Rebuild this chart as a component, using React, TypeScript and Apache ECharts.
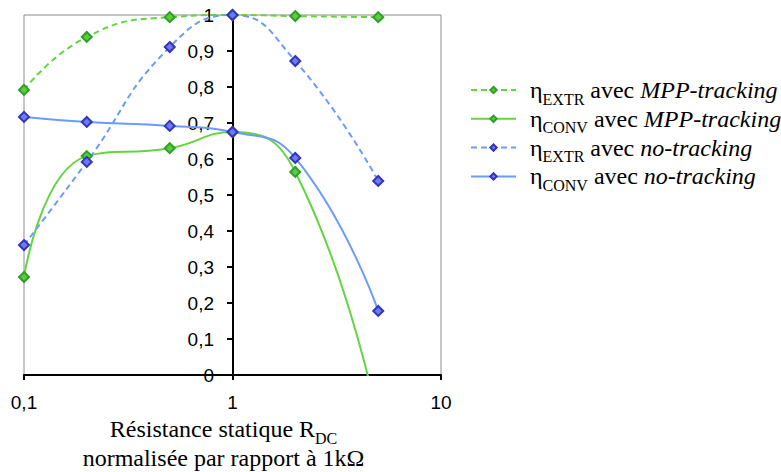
import React, { useEffect, useRef } from "react";
import * as echarts from "echarts";

const xValues = [0.1, 0.2, 0.5, 1, 2, 5];
const extrMpp = [0.792, 0.939, 0.994, 1.0, 0.997, 0.994];
const convMpp = [0.272, 0.608, 0.63, 0.675, 0.564, -0.13];
const extrNo = [0.361, 0.592, 0.911, 1.0, 0.872, 0.539];
const convNo = [0.717, 0.703, 0.692, 0.675, 0.603, 0.178];
const seriesNames = [
  "{eta|η}{sub|EXTR}{n| avec }{it|MPP-tracking}",
  "{eta|η}{sub|CONV}{n| avec }{it|MPP-tracking}",
  "{eta|η}{sub|EXTR}{n| avec }{it|no-tracking}",
  "{eta|η}{sub|CONV}{n| avec }{it|no-tracking}",
];
const xTitle = "{n|Résistance statique R}{sub|DC}\n{n|normalisée par rapport à 1kΩ}";

const GREEN_LINE = "#62d640";
const GREEN_MARK = "#2f9e2a";
const GREEN_FILL = "#5ccc3a";
const BLUE_LINE = "#6a9bff";
const BLUE_MARK = "#3434b8";
const BLUE_FILL = "#6b7cf0";
const SERIF = "'Liberation Serif', 'Times New Roman', serif";
const SANS = "'Liberation Sans', Arial, sans-serif";

export default function App() {
  const ref = useRef<HTMLDivElement>(null);
  useEffect(() => {
    if (!ref.current) return;
    const chart = echarts.init(ref.current, undefined, { renderer: "svg" });
    const mk = (name: string, vals: number[], line: string, mark: string, fill: string, dashed: boolean) => ({
      name,
      type: "line",
      data: xValues.map((x, i) => [x, vals[i]]),
      smooth: 0.5,
      clip: true,
      symbol: "diamond",
      symbolSize: 10,
      lineStyle: { color: line, width: 2, type: dashed ? [6, 4] : "solid" },
      itemStyle: { color: fill, borderColor: mark, borderWidth: 2 },
    });
    const LH = 34;
    const legendRich = {
      eta: { fontFamily: SERIF, fontSize: 24, color: "#000", lineHeight: LH, padding: [0, 0, 0, 9] },
      sub: { fontFamily: SERIF, fontSize: 16, color: "#000", lineHeight: LH, verticalAlign: "bottom" },
      n: { fontFamily: SERIF, fontSize: 24, color: "#000", lineHeight: LH },
      it: { fontFamily: SERIF, fontSize: 24, fontStyle: "italic", color: "#000", lineHeight: LH },
    };
    chart.setOption({
      animation: false,
      backgroundColor: "#fff",
      grid: {
        left: 24,
        right: 340,
        top: 15,
        bottom: 97,
        show: true,
        borderColor: "#8c8c8c",
        borderWidth: 1,
        outerBoundsMode: "none",
        containLabel: false,
      },
      legend: {
        orient: "vertical",
        left: 465,
        top: 68,
        itemWidth: 45,
        itemHeight: 8,
        itemGap: -5.2,
        data: seriesNames,
        textStyle: { fontFamily: SERIF, fontSize: 24, color: "#000", lineHeight: LH, rich: legendRich },
      },
      xAxis: {
        type: "log",
        logBase: 10,
        min: 0.1,
        max: 10,
        axisLine: { show: true, lineStyle: { color: "#000", width: 2 } },
        axisTick: { show: true, length: 5, lineStyle: { color: "#000", width: 2 } },
        minorTick: { show: false },
        splitLine: { show: false },
        axisLabel: {
          fontFamily: SANS,
          fontSize: 19,
          color: "#000",
          margin: 18,
          formatter: (v: number) => String(v).replace(".", ","),
        },
        name: xTitle,
        nameLocation: "middle",
        nameGap: 42,
        nameTextStyle: {
          fontFamily: SERIF,
          fontSize: 24,
          color: "#000",
          lineHeight: 29,
          padding: [0, 18, 0, 0],
          rich: {
            n: { fontFamily: SERIF, fontSize: 24, color: "#000", lineHeight: 29, verticalAlign: "top" },
            sub: { fontFamily: SERIF, fontSize: 16, color: "#000", lineHeight: 29, verticalAlign: "bottom" },
          },
        },
      },
      yAxis: {
        type: "value",
        min: 0,
        max: 1,
        interval: 0.1,
        position: "left",
        offset: -209,
        axisLine: { show: true, lineStyle: { color: "#000", width: 2 } },
        axisTick: { show: true, length: 6, lineStyle: { color: "#000", width: 2 } },
        splitLine: { show: false },
        axisLabel: {
          fontFamily: SANS,
          fontSize: 19,
          color: "#000",
          margin: 19,
          formatter: (v: number) => String(Math.round(v * 10) / 10).replace(".", ","),
        },
      },
      series: [
        mk(seriesNames[0], extrMpp, GREEN_LINE, GREEN_MARK, GREEN_FILL, true),
        mk(seriesNames[1], convMpp, GREEN_LINE, GREEN_MARK, GREEN_FILL, false),
        mk(seriesNames[2], extrNo, BLUE_LINE, BLUE_MARK, BLUE_FILL, true),
        mk(seriesNames[3], convNo, BLUE_LINE, BLUE_MARK, BLUE_FILL, false),
      ],
    });
    return () => chart.dispose();
  }, []);
  return <div ref={ref} style={{ position: "fixed", left: 0, top: 0, width: 781, height: 472 }} />;
}
